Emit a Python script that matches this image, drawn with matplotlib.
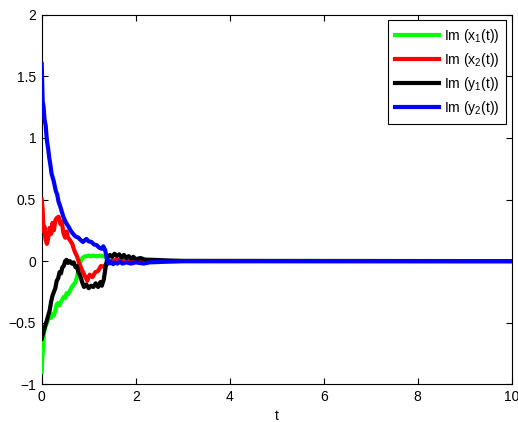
import numpy as np
import matplotlib
matplotlib.use('Agg')
import matplotlib.pyplot as plt

plt.rcParams['font.family'] = ['Liberation Sans', 'DejaVu Sans']
plt.rcParams['mathtext.default'] = 'regular'
plt.rcParams['font.size'] = 10

# Im(x1(t)) - green
t_x1 = [0, 0.01, 0.03, 0.05, 0.08, 0.11, 0.14, 0.17, 0.2, 0.23, 0.26, 0.29, 0.32, 0.35, 0.38,
        0.41, 0.44, 0.47, 0.5, 0.53, 0.56, 0.6, 0.64, 0.68, 0.72, 0.75, 0.78, 0.8, 0.83, 0.86,
        0.9, 0.95, 1.0, 1.05, 1.1, 1.15, 1.2, 1.25, 1.3, 1.35, 1.4, 1.43, 1.5, 1.7, 10]
x1 = [-0.90, -0.80, -0.70, -0.58, -0.53, -0.50, -0.47, -0.44, -0.46, -0.43, -0.44, -0.40, -0.35,
      -0.34, -0.36, -0.33, -0.31, -0.29, -0.30, -0.26, -0.27, -0.24, -0.21, -0.19, -0.17, -0.13,
      -0.08, -0.04, 0.00, 0.02, 0.035, 0.04, 0.045, 0.04, 0.045, 0.04, 0.04, 0.045, 0.04, 0.035,
      0.02, 0.0, 0.005, 0.0, 0.0]

# Im(x2(t)) - red
t_x2 = [0, 0.02, 0.04, 0.06, 0.08, 0.11, 0.14, 0.17, 0.2, 0.23, 0.26, 0.29, 0.32, 0.36, 0.4,
        0.43, 0.46, 0.5, 0.53, 0.56, 0.6, 0.65, 0.7, 0.75, 0.8, 0.86, 0.93, 0.97, 1.02, 1.08,
        1.14, 1.2, 1.26, 1.32, 1.38, 1.43, 1.6, 1.8, 2.0, 2.5, 10]
x2 = [0.50, 0.42, 0.24, 0.28, 0.18, 0.14, 0.19, 0.27, 0.22, 0.31, 0.25, 0.33, 0.35, 0.36, 0.30,
      0.32, 0.23, 0.19, 0.24, 0.19, 0.17, 0.14, 0.08, 0.04, -0.02, -0.075, -0.13, -0.16, -0.11,
      -0.13, -0.09, -0.08, -0.04, -0.045, -0.02, 0.0, 0.01, 0.005, 0.01, 0.0, 0.0]

# Im(y1(t)) - black
t_y1 = [0, 0.02, 0.05, 0.08, 0.11, 0.14, 0.17, 0.2, 0.23, 0.26, 0.29, 0.32, 0.35, 0.38, 0.41,
        0.44, 0.47, 0.5, 0.53, 0.56, 0.6, 0.64, 0.68, 0.72, 0.75, 0.78, 0.82, 0.86, 0.9, 0.95,
        1.0, 1.05, 1.1, 1.15, 1.2, 1.25, 1.28, 1.32, 1.36, 1.4, 1.45, 1.5, 1.55, 1.6, 1.65, 1.7,
        1.75, 1.8, 1.85, 1.9, 1.95, 2.0, 2.1, 2.2, 2.4, 2.7, 3.0, 10]
y1 = [-0.63, -0.60, -0.56, -0.52, -0.48, -0.44, -0.40, -0.33, -0.28, -0.25, -0.22, -0.16, -0.14,
      -0.09, -0.10, -0.05, -0.04, 0.00, 0.01, -0.015, 0.00, -0.02, -0.01, -0.05, -0.04, -0.09,
      -0.12, -0.17, -0.21, -0.19, -0.22, -0.20, -0.21, -0.18, -0.21, -0.17, -0.20, -0.15, -0.05,
      0.03, 0.05, 0.035, 0.06, 0.04, 0.055, 0.03, 0.05, 0.025, 0.04, 0.02, 0.035, 0.015, 0.025,
      0.012, 0.01, 0.005, 0.002, 0.0]

# Im(y2(t)) - blue
t_y2 = [0, 0.01, 0.02, 0.04, 0.06, 0.085, 0.11, 0.135, 0.16, 0.185, 0.21, 0.255, 0.3, 0.33,
        0.36, 0.39, 0.46, 0.52, 0.57, 0.62, 0.67, 0.72, 0.78, 0.83, 0.88, 0.92, 0.95, 1.0, 1.06,
        1.11, 1.17, 1.22, 1.28, 1.31, 1.35, 1.39, 1.43, 1.47, 1.52, 1.56, 1.61, 1.66, 1.72, 1.8,
        1.9, 2.0, 2.17, 2.3, 2.45, 2.7, 3.0, 10]
y2 = [1.60, 1.45, 1.30, 1.25, 1.15, 1.10, 0.98, 0.92, 0.84, 0.78, 0.71, 0.65, 0.57, 0.54, 0.48,
      0.45, 0.36, 0.31, 0.28, 0.245, 0.22, 0.20, 0.19, 0.17, 0.155, 0.17, 0.18, 0.16, 0.155,
      0.135, 0.13, 0.11, 0.10, 0.12, 0.09, 0.01, -0.02, -0.005, -0.025, -0.01, -0.02, -0.005,
      -0.02, -0.01, -0.02, -0.01, -0.02, -0.01, -0.008, -0.004, 0.0, 0.0]

labels = ['Im (x$_1$(t))', 'Im (x$_2$(t))', 'Im (y$_1$(t))', 'Im (y$_2$(t))']
colors = ['#00ff00', '#ff0000', '#000000', '#0000ff']

fig = plt.figure(figsize=(5.18, 4.22), dpi=100)
ax = fig.add_axes([0.0805, 0.0893, 0.9073, 0.8759])

series = [(t_x1, x1), (t_x2, x2), (t_y1, y1), (t_y2, y2)]
for (tt, vv), lab, col in zip(series, labels, colors):
    ax.plot(tt, vv, color=col, linewidth=3, label=lab, zorder=3)

ax.set_xlim(0, 10)
ax.set_ylim(-1, 2)
ax.set_xticks([0, 2, 4, 6, 8, 10])
ax.set_yticks([-1, -0.5, 0, 0.5, 1, 1.5, 2])
ax.set_yticklabels(['\u22121', '\u22120.5', '0', '0.5', '1', '1.5', '2'])
ax.tick_params(direction='in', top=True, right=True, length=4, width=0.8, pad=4)
for sp in ax.spines.values():
    sp.set_linewidth(0.8)
ax.set_xlabel('t', labelpad=4)

leg = ax.legend(loc='upper right', fancybox=False, framealpha=1, edgecolor='black',
                handlelength=3.2, handletextpad=0.3, labelspacing=0.42, borderpad=0.5,
                borderaxespad=0.4)
leg.get_frame().set_linewidth(0.8)
leg.set_zorder(5)

fig.savefig('out.png', dpi=100)
